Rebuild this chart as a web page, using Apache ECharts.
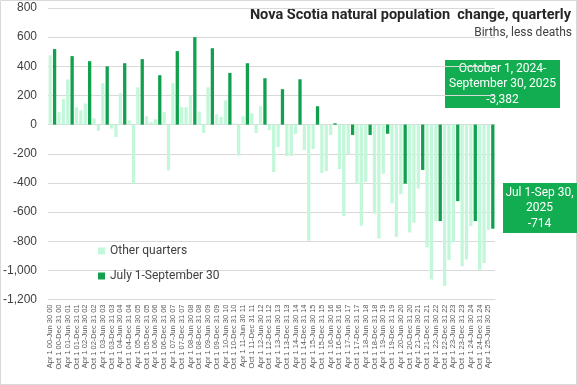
<!DOCTYPE html>
<html><head><meta charset="utf-8">
<script src="https://cdn.jsdelivr.net/npm/echarts@6/dist/echarts.min.js"></script>
<style>html,body{margin:0;padding:0;background:#fff}#c{width:577px;height:385px}</style>
</head><body><div id="c"></div>
<script>
// Quarter label patterns (Apr-Jun, Jul-Sep, Oct-Dec, Jan-Mar of following year)
const quarterPatterns = ['Apr 1 {y}-Jun 30 {y}', 'Jul 1 {y}-Sep 30 {y}', 'Oct 1 {y}-Dec 31 {y}', 'Jan 1 {n}-Mar 31 {n}'];
const firstYear = 2000;
const quarterCount = 102; // Apr 2000 .. Sep 2025

// Natural population change (births less deaths), quarterly, in order from Apr-Jun 2000
const quarterlyValues = [
  475, 518, 85, 175,
  310, 470, 120, 98,
  145, 435, 43, -43,
  284, 400, -27, -85,
  215, 421, 30, -405,
  256, 449, 57, 16,
  37, 339, 85, -314,
  284, 504, 119, 119,
  199, 600, 90, -57,
  256, 524, 71, 53,
  167, 355, 8, -213,
  57, 421, 78, -57,
  126, 318, -37, -325,
  -153, 243, -215, -215,
  -64, 311, -174, -797,
  -167, 126, -332, -320,
  -71, 9, -305, -627,
  -204, -71, -405, -694,
  -394, -71, -611, -781,
  -338, -63, -540, -770,
  -478, -405, -740, -673,
  -439, -311, -843, -1062,
  -662, -662, -1108, -930,
  -806, -525, -972, -925,
  -698, -662, -996, -950,
  -722, -714
];

const seriesNames = ['Other quarters', 'July 1-September 30'];
const yTicks = { min: -1200, max: 800, interval: 200 };
const titleText = 'Nova Scotia natural population  change, quarterly';
const subtitleText = 'Births, less deaths';
const note1 = ['October 1, 2024-', 'September 30, 2025', '-3,382'];
const note2 = ['Jul 1-Sep 30,', '2025', '-714'];

const yy = y => String(y % 100).padStart(2, '0');
const categories = [];
for (let i = 0; i < quarterCount; i++) {
  const q = i % 4;
  const y = firstYear + Math.floor(i / 4);
  categories.push(quarterPatterns[q].replace(/\{y\}/g, yy(y)).replace(/\{n\}/g, yy(y + 1)));
}
const isJulSep = i => i % 4 === 1;
const otherData = quarterlyValues.map((v, i) => isJulSep(i) ? null : v);
const julSepData = quarterlyValues.map((v, i) => isJulSep(i) ? v : null);

const LIGHT = '#c3f7da';
const DARK = '#10a04e';
const BOX = '#12ad50';
const FONT = "Roboto, 'Liberation Sans', sans-serif";

const chart = echarts.init(document.getElementById('c'), null, { renderer: 'canvas' });
chart.setOption({
  animation: false,
  backgroundColor: '#fff',
  grid: { left: 45, right: 82, top: 8, bottom: 85.5, containLabel: false },
  legend: {
    data: seriesNames,
    orient: 'vertical',
    left: 93, top: 240,
    icon: 'rect', itemWidth: 7, itemHeight: 7, itemGap: 13,
    textStyle: { fontSize: 12, color: '#404040', fontFamily: FONT }
  },
  xAxis: {
    type: 'category',
    data: categories,
    axisLine: { onZero: false, lineStyle: { color: '#d9d9d9' } },
    axisTick: { show: false },
    axisLabel: { rotate: 90, interval: 1, fontSize: 7.5, color: '#595959', margin: 5, fontFamily: "'Liberation Sans', Arial, sans-serif" }
  },
  yAxis: {
    type: 'value',
    min: yTicks.min, max: yTicks.max, interval: yTicks.interval,
    axisLine: { show: false }, axisTick: { show: false },
    splitLine: { lineStyle: { color: '#d9d9d9', width: 1 } },
    axisLabel: {
      fontSize: 12, color: '#404040', margin: 11,
      fontFamily: "'Liberation Sans', Arial, sans-serif",
      formatter: v => v.toLocaleString('en-US')
    }
  },
  series: [
    { name: seriesNames[0], type: 'bar', data: otherData, itemStyle: { color: LIGHT }, barGap: '-100%', barCategoryGap: '25%' },
    { name: seriesNames[1], type: 'bar', data: julSepData, itemStyle: { color: DARK }, barGap: '-100%', barCategoryGap: '25%' }
  ],
  graphic: [
    { type: 'rect', shape: { x: 0.5, y: 0.5, width: 576, height: 384 }, style: { fill: 'none', stroke: '#d9d9d9', lineWidth: 1 }, silent: true, z: -10 },
    { type: 'text', right: 6, top: 8, style: { text: titleText, font: "bold 14.5px " + FONT, fill: '#262626' } },
    { type: 'text', right: 5, top: 27, style: { text: subtitleText, font: "12px " + FONT, fill: '#404040' } },
    { type: 'rect', shape: { x: 445, y: 60, width: 115, height: 48 }, style: { fill: BOX } },
    { type: 'text', x: 502.5, y: 84, style: { text: note1.join('\n'), font: "12px " + FONT, fill: '#ffffff', align: 'center', verticalAlign: 'middle', textAlign: 'center', textVerticalAlign: 'middle', lineHeight: 15.5 } },
    { type: 'rect', shape: { x: 503, y: 183, width: 74, height: 50 }, style: { fill: BOX } },
    { type: 'text', x: 539.5, y: 208, style: { text: note2.join('\n'), font: "12px " + FONT, fill: '#ffffff', align: 'center', verticalAlign: 'middle', textAlign: 'center', textVerticalAlign: 'middle', lineHeight: 15.5 } }
  ]
});
</script>
</body></html>
